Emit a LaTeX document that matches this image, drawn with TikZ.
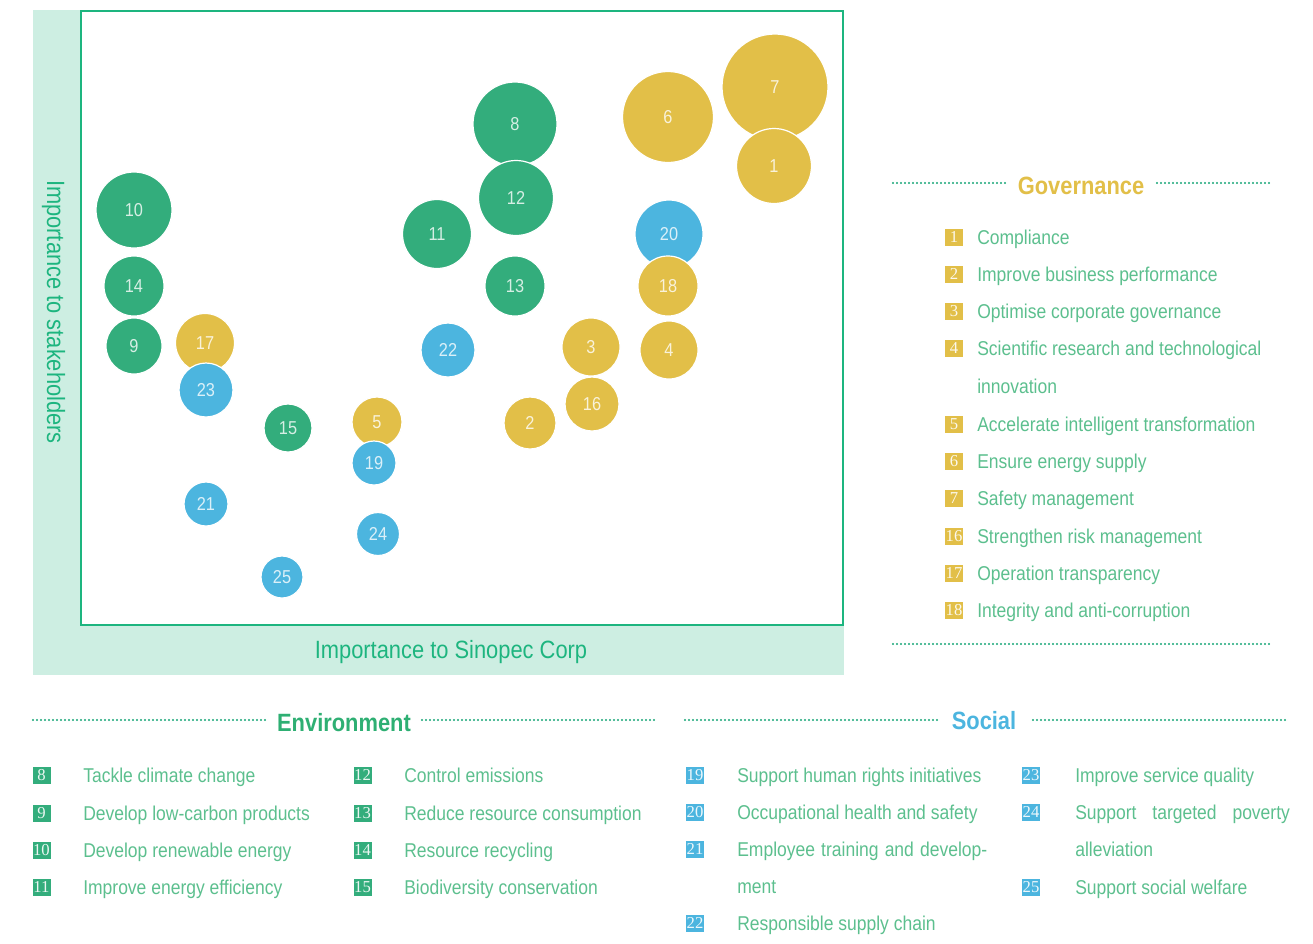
\documentclass[tikz,border=0pt]{standalone}
\usepackage{fontspec}
\setmainfont[FakeStretch=0.875]{Liberation Sans}
\newfontfamily\numfont{Liberation Serif}
\definecolor{gcol}{HTML}{33AD7C}
\definecolor{ycol}{HTML}{E2BF48}
\definecolor{bcol}{HTML}{4CB5DF}
\definecolor{bgc}{HTML}{CDEEE2}
\definecolor{bordc}{HTML}{1DB57F}
\definecolor{legc}{HTML}{5CBF8E}
\definecolor{envt}{HTML}{2EAF73}
\definecolor{dotc}{HTML}{17A576}
\newcommand\legitem[7]{%
  \node[sqbox, fill=#5] (#1s) at (#2,#4-7) {#6};
  \node[legtext] (#1t) at (#3,#4) {#7};}
\begin{document}
\begin{tikzpicture}[x=0.75pt,y=-0.75pt,
  bub/.style={circle, draw=white, line width=0.9pt, inner sep=0pt,
    minimum size=#1*1.5pt, text=white, text opacity=0.8,
    font=\fontsize{14}{14}\selectfont},
  sqbox/.style={rectangle, inner sep=0pt, minimum width=13.5pt,
    minimum height=12.75pt, text=white, text opacity=0.9,
    font=\numfont\fontsize{12.5}{12.5}\selectfont},
  legtext/.style={anchor=base west, inner sep=0pt, text=legc,
    font=\fontsize{15}{18}\selectfont},
  axislab/.style={anchor=base, inner sep=0pt, text=bordc,
    font=\fontsize{18.75}{20}\selectfont},
  title/.style={anchor=base, inner sep=0pt,
    font=\bfseries\fontsize{18.75}{20}\selectfont},
  dotline/.style={draw=dotc, line width=1.6pt, line cap=round,
    dash pattern=on 0pt off 3pt}]
\useasboundingbox (0,0) rectangle (1313,943);
% chart background
\fill[bgc] (33,10) rectangle (844,675);
\fill[white] (81,11) rectangle (843,625);
\draw[bordc, line width=1.2pt] (81,11) rectangle (843,625);
\node[axislab, rotate=-90] (ylab) at (47,312) {Importance to stakeholders};
\node[axislab] (xlab) at (451,658) {Importance to Sinopec Corp};
% bubbles
\node[bub=53, fill=ycol] (b7) at (775,87) {7};
\node[bub=37.5, fill=ycol] (b1) at (774,166) {1};
\node[bub=45.5, fill=ycol] (b6) at (668,117) {6};
\node[bub=42, fill=gcol] (b8) at (515,124) {8};
\node[bub=37.5, fill=gcol] (b12) at (516,198) {12};
\node[bub=34.5, fill=gcol] (b11) at (437,234) {11};
\node[bub=30, fill=gcol] (b13) at (515,286) {13};
\node[bub=34, fill=bcol] (b20) at (669,234) {20};
\node[bub=30, fill=ycol] (b18) at (668,286) {18};
\node[bub=38, fill=gcol] (b10) at (134,210) {10};
\node[bub=30, fill=gcol] (b14) at (134,286) {14};
\node[bub=28, fill=gcol] (b9) at (134,346) {9};
\node[bub=29.5, fill=ycol] (b17) at (205,343) {17};
\node[bub=27, fill=bcol] (b23) at (206,390) {23};
\node[bub=24, fill=gcol] (b15) at (288,428) {15};
\node[bub=25, fill=ycol] (b5) at (377,422) {5};
\node[bub=22, fill=bcol] (b19) at (374,463) {19};
\node[bub=22, fill=bcol] (b21) at (206,504) {21};
\node[bub=21.5, fill=bcol] (b24) at (378,534) {24};
\node[bub=21, fill=bcol] (b25) at (282,577) {25};
\node[bub=27, fill=bcol] (b22) at (448,350) {22};
\node[bub=29, fill=ycol] (b3) at (591,347) {3};
\node[bub=29, fill=ycol] (b4) at (669,350) {4};
\node[bub=27, fill=ycol] (b16) at (592,404) {16};
\node[bub=26, fill=ycol] (b2) at (530,423) {2};
% Governance legend
\node[title, text=ycol] (gov) at (1081,194) {Governance};
\coordinate (gl1) at (893,183); \coordinate (gl2) at (1007,183);
\coordinate (gr1) at (1157,183); \coordinate (gr2) at (1272,183);
\coordinate (gb1) at (893,644); \coordinate (gb2) at (1272,644);
\draw[dotline] (gl1) -- (gl2);
\draw[dotline] (gr1) -- (gr2);
\draw[dotline] (gb1) -- (gb2);
\legitem{g1}{954}{977}{244}{ycol}{1}{Compliance}
\legitem{g2}{954}{977}{281}{ycol}{2}{Improve business performance}
\legitem{g3}{954}{977}{318}{ycol}{3}{Optimise corporate governance}
\legitem{g4}{954}{977}{355}{ycol}{4}{Scientific research and technological}
\node[legtext] (g4b) at (977,393) {innovation};
\legitem{g5}{954}{977}{431}{ycol}{5}{Accelerate intelligent transformation}
\legitem{g6}{954}{977}{468}{ycol}{6}{Ensure energy supply}
\legitem{g7}{954}{977}{505}{ycol}{7}{Safety management}
\legitem{g16}{954}{977}{543}{ycol}{16}{Strengthen risk management}
\legitem{g17}{954}{977}{580}{ycol}{17}{Operation transparency}
\legitem{g18}{954}{977}{617}{ycol}{18}{Integrity and anti-corruption}
% Environment legend
\node[title, text=envt] (env) at (344,731) {Environment};
\coordinate (el1) at (33,720); \coordinate (el2) at (265,720);
\coordinate (er1) at (422,720); \coordinate (er2) at (656,720);
\draw[dotline] (el1) -- (el2);
\draw[dotline] (er1) -- (er2);
\legitem{e8}{41.5}{83}{782}{gcol}{8}{Tackle climate change}
\legitem{e9}{41.5}{83}{820}{gcol}{9}{Develop low-carbon products}
\legitem{e10}{41.5}{83}{857}{gcol}{10}{Develop renewable energy}
\legitem{e11}{41.5}{83}{894}{gcol}{11}{Improve energy efficiency}
\legitem{e12}{362.5}{404}{782}{gcol}{12}{Control emissions}
\legitem{e13}{362.5}{404}{820}{gcol}{13}{Reduce resource consumption}
\legitem{e14}{362.5}{404}{857}{gcol}{14}{Resource recycling}
\legitem{e15}{362.5}{404}{894}{gcol}{15}{Biodiversity conservation}
% Social legend
\node[title, text=bcol] (soc) at (984,729) {Social};
\coordinate (sl1) at (685,720); \coordinate (sl2) at (937,720);
\coordinate (sr1) at (1033,720); \coordinate (sr2) at (1286,720);
\draw[dotline] (sl1) -- (sl2);
\draw[dotline] (sr1) -- (sr2);
\legitem{s19}{695}{737}{782}{bcol}{19}{Support human rights initiatives}
\legitem{s20}{695}{737}{819}{bcol}{20}{Occupational health and safety}
\legitem{s21}{695}{737}{856}{bcol}{21}{\makebox[187.5pt][s]{Employee training and develop-}}
\node[legtext] (s21b) at (737,893) {ment};
\legitem{s22}{695}{737}{930}{bcol}{22}{Responsible supply chain}
\legitem{s23}{1031}{1075}{782}{bcol}{23}{Improve service quality}
\legitem{s24}{1031}{1075}{819}{bcol}{24}{\makebox[161pt][s]{Support targeted poverty}}
\node[legtext] (s24b) at (1075,856) {alleviation};
\legitem{s25}{1031}{1075}{894}{bcol}{25}{Support social welfare}
\end{tikzpicture}
\end{document}
